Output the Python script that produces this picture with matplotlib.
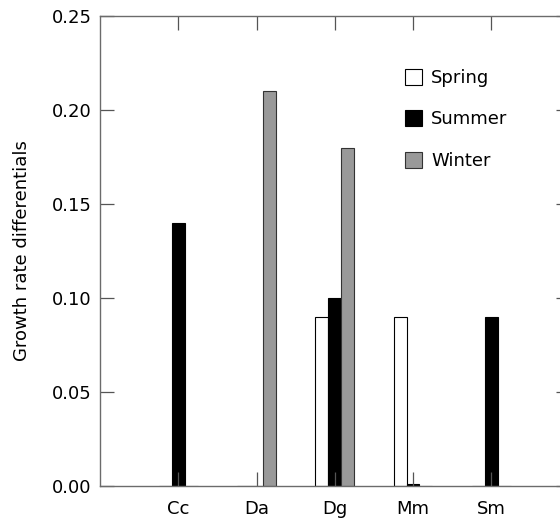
import numpy as np
import matplotlib
matplotlib.use("Agg")
import matplotlib.pyplot as plt

plt.rcParams["font.family"] = ["DejaVu Sans"]

# ── data ─────────────────────────────────────────────────────────────────────
species = ["Cc", "Da", "Dg", "Mm", "Sm"]
spring = [0.0, 0.0, 0.09, 0.09, 0.0]
summer = [0.14, 0.0, 0.10, 0.001, 0.09]
winter = [0.0, 0.21, 0.18, 0.0, 0.0]
yticks = [0.00, 0.05, 0.10, 0.15, 0.20, 0.25]

# ── figure ───────────────────────────────────────────────────────────────────
fig = plt.figure(figsize=(5.6, 5.2), dpi=100)
ax = fig.add_axes([100 / 560, 34 / 520, 469.5 / 560, 470 / 520])

x = np.arange(1, len(species) + 1)
w = 0.166
ax.bar(x - w, spring, w, color="white", edgecolor="black", linewidth=0.8, label="Spring")
ax.bar(x, summer, w, color="black", edgecolor="black", linewidth=0.8, label="Summer")
ax.bar(x + w, winter, w, color="#999999", edgecolor="#333333", linewidth=0.8, label="Winter")

ax.set_xlim(0, 6)
ax.set_ylim(0, 0.25)
ax.set_xticks(x)
ax.set_xticklabels(species)
ax.set_yticks(yticks)
ax.set_yticklabels([f"{v:.2f}" for v in yticks])

for s in ax.spines.values():
    s.set_color("#6b6b6b")
    s.set_linewidth(1.0)

ax.tick_params(axis="both", direction="in", length=10, width=0.9, color="#555555",
               labelsize=13, top=True, right=True)
ax.tick_params(axis="y", pad=6)
ax.tick_params(axis="x", pad=10)

ax.set_ylabel("Growth rate differentials", fontsize=13, labelpad=15)

leg = ax.legend(loc="upper left", bbox_to_anchor=(405 / 560, 1 - 69 / 520),
                bbox_transform=fig.transFigure, frameon=False, fontsize=13,
                handlelength=0.95, handleheight=0.95, handletextpad=0.5,
                labelspacing=1.3, borderpad=0, borderaxespad=0)

plt.savefig("out.png", dpi=100)
plt.close()
